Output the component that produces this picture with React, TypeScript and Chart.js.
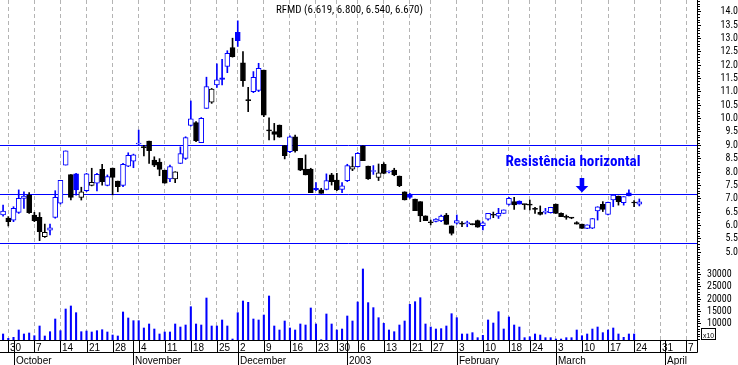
import React, { useEffect, useRef } from 'react';
import { Chart, registerables } from 'chart.js';

Chart.register(...registerables);

// ---- Daily OHLC (trading sessions from 27 Sep 2002 to 25 Mar 2003, index = session number) ----
const openP = [
  6.39, 6.27, 6.20, 6.49, 7.01, 7.14, 6.39, 6.30, 5.58, 5.82,
  6.30, 6.83, 8.26, 7.90, 7.93, 7.05, 7.30, 7.50, 7.58, 8.10,
  7.50, 8.15, 7.66, 7.50, 8.22, 8.41, 9.05, 8.93, 9.16, 8.45,
  8.37, 8.07, 7.74, 7.74, 8.32, 8.51, 9.74, 9.85, 9.10, 10.38,
  10.61, 11.26, 11.53, 11.95, 12.66, 13.23, 12.09, 10.70, 11.01, 11.05,
  11.82, 9.55, 9.51, 9.76, 8.99, 8.76, 9.32, 8.51, 8.11, 8.11,
  7.39, 7.33, 7.35, 7.89, 7.70, 7.35, 7.68, 8.11, 8.20, 8.98,
  8.22, 8.02, 7.80, 8.29, 8.00, 8.07, 7.85, 7.26, 7.17, 6.99,
  6.89, 6.36, 6.13, 6.15, 6.17, 6.39, 5.98, 6.08, 6.06, 6.07,
  6.05, 6.18, 5.99, 6.23, 6.40, 6.35, 6.45, 6.79, 6.89, 6.91,
  6.79, 6.78, 6.62, 6.49, 6.49, 6.48, 6.80, 6.45, 6.31, 6.28,
  6.11, 6.05, 5.89, 5.90, 6.54, 6.79, 6.41, 6.95, 7.10, 6.85,
  7.22, 6.85, 6.80,
];
const highP = [
  6.76, 6.33, 6.70, 7.33, 7.26, 7.23, 6.49, 6.48, 6.05, 6.05,
  7.30, 7.69, 8.79, 7.90, 7.95, 7.43, 7.95, 8.14, 7.95, 8.29,
  7.89, 8.15, 7.66, 8.32, 8.72, 8.67, 9.57, 9.00, 9.16, 8.57,
  8.50, 8.07, 8.26, 8.01, 8.94, 9.32, 10.66, 9.89, 10.04, 11.55,
  11.13, 12.05, 12.22, 12.54, 13.01, 13.66, 12.51, 11.17, 11.76, 12.07,
  11.82, 10.03, 9.82, 9.76, 8.99, 9.35, 9.38, 8.51, 8.64, 8.14,
  7.60, 7.39, 7.93, 7.95, 7.95, 7.60, 8.29, 8.57, 8.73, 8.98,
  8.22, 8.24, 8.30, 8.35, 8.04, 8.14, 7.85, 7.26, 7.20, 6.99,
  6.89, 6.36, 6.20, 6.26, 6.39, 6.45, 5.98, 6.39, 6.14, 6.16,
  6.06, 6.20, 6.14, 6.45, 6.50, 6.64, 6.58, 7.05, 7.05, 6.92,
  6.80, 6.95, 6.68, 6.73, 6.64, 6.68, 6.80, 6.47, 6.39, 6.30,
  6.14, 6.05, 6.02, 6.26, 6.70, 6.89, 6.87, 7.14, 7.10, 7.08,
  7.33, 6.93, 6.99,
];
const lowP = [
  6.35, 5.98, 6.14, 6.45, 6.64, 6.45, 6.14, 5.43, 5.55, 5.64,
  6.27, 6.80, 8.26, 6.95, 7.13, 6.95, 7.27, 7.48, 7.29, 7.51,
  7.48, 7.14, 7.26, 7.45, 8.20, 8.16, 8.99, 8.60, 8.32, 8.20,
  7.86, 7.58, 7.64, 7.60, 8.32, 8.47, 9.72, 9.14, 9.10, 10.38,
  10.57, 11.17, 11.26, 11.72, 12.30, 12.70, 11.20, 10.26, 10.97, 11.01,
  10.07, 9.20, 9.20, 9.30, 8.49, 8.72, 8.74, 8.05, 7.89, 7.23,
  7.30, 7.20, 7.33, 7.51, 7.30, 7.23, 7.64, 8.05, 8.18, 8.42,
  7.72, 7.91, 7.68, 7.93, 7.97, 7.86, 7.45, 6.95, 7.01, 6.55,
  6.14, 6.18, 6.02, 6.13, 6.14, 6.04, 5.64, 6.05, 5.95, 5.95,
  6.02, 5.93, 5.83, 6.20, 6.29, 6.26, 6.45, 6.76, 6.60, 6.80,
  6.60, 6.58, 6.45, 6.39, 6.43, 6.46, 6.45, 6.33, 6.23, 6.25,
  6.05, 5.89, 5.88, 5.88, 6.20, 6.52, 6.39, 6.70, 6.76, 6.76,
  7.10, 6.70, 6.73,
];
const closeP = [
  6.54, 6.14, 6.64, 7.01, 7.10, 6.48, 6.18, 5.77, 5.74, 5.91,
  7.05, 7.69, 8.79, 7.05, 7.33, 7.26, 7.93, 7.61, 7.91, 7.64,
  7.83, 7.80, 7.45, 8.29, 8.62, 8.64, 9.08, 8.91, 8.80, 8.26,
  8.10, 7.58, 8.20, 8.01, 8.69, 9.29, 9.99, 9.17, 10.01, 11.20,
  11.10, 11.45, 11.47, 12.44, 12.32, 12.92, 11.42, 10.67, 11.54, 11.88,
  10.13, 9.54, 9.41, 9.30, 8.61, 9.32, 8.79, 8.07, 7.89, 7.23,
  7.34, 7.20, 7.68, 7.64, 7.33, 7.48, 8.24, 8.20, 8.70, 8.42,
  7.74, 8.03, 7.97, 7.95, 8.02, 7.89, 7.49, 6.95, 7.05, 6.55,
  6.36, 6.18, 6.10, 6.24, 6.35, 6.04, 5.70, 6.18, 6.05, 6.08,
  6.03, 5.93, 6.10, 6.45, 6.38, 6.45, 6.58, 7.01, 6.77, 6.80,
  6.78, 6.76, 6.60, 6.41, 6.50, 6.68, 6.45, 6.33, 6.30, 6.27,
  6.05, 5.89, 6.02, 6.26, 6.70, 6.60, 6.86, 7.14, 6.89, 7.08,
  7.10, 6.84, 6.88,
];
const volume: (number | null)[] = [
  5830, 4085, 4490, 7450, 5830, 6230, 5140, 9070, 5020, 6760,
  11900, 7170, 15950, 17170, 14460, 6760, 7040, 6640, 7170, 7570,
  6640, 5420, 5020, 14740, 12310, 11220, 11220, 8260, 9880, 7850,
  5830, 6640, 6640, 9880, 8660, 9470, 16890, 9880, 9470, 20400,
  9070, 9070, 11500, 9070, 3800, 14460, 19190, 18660, 11900, 11500,
  13520, 21220, 9070, 7450, 11090, 8260, 7450, 9880, 9470, 16360,
  9880, 3500, 13930, 9880, 7450, 7850, 13120, 11090, 18790, 32150,
  18520, 16500, 12430, 10140, 7450, 6760, 9470, 11090, 17850, 18910,
  20530, 9880, 8660, 7850, 7990, 9070, 14050, 12430, 5830, 5830,
  6370, 4340, 5280, 11500, 10280, 14860, 7850, 12710, 9470, 8660,
  4340, 4700, 5830, 5420, 4340, 4340, 3800, 3800, 4340, 4340,
  7450, 5140, 5830, 7850, 8660, 6370, 7450, 8260, 5830, 4490,
  5830, 5830, null,
];

// ---- Axis tick labels ----
const weekTickIdx = [1, 6, 11, 16, 21, 26, 31, 36, 41, 45, 50, 55, 60, 64, 68, 73, 78, 82, 87, 92, 97, 101, 106, 111, 116, 121, 126, 131];
const weekTickLabels = ['30', '7', '14', '21', '28', '4', '11', '18', '25', '2', '9', '16', '23', '30', '6', '13', '21', '27', '3', '10', '18', '24', '3', '10', '17', '24', '31', '7'];
const monthStartIdx = [2, 25, 45, 66, 87, 106, 127];
const monthLabels = ['October', 'November', 'December', '2003', 'February', 'March', 'April'];
const priceTicks = [5.0, 5.5, 6.0, 6.5, 7.0, 7.5, 8.0, 8.5, 9.0, 9.5, 10.0, 10.5, 11.0, 11.5, 12.0, 12.5, 13.0, 13.5, 14.0];
const volumeTicks = [10000, 15000, 20000, 25000, 30000];

// ---- Annotations ----
const levelLines = [9.0, 7.17, 5.33];
const titleText = 'RFMD (6.619, 6.800, 6.540, 6.670)';
const noteText = 'Resistência horizontal';
const arrowIdx = 111;

const X_MIN = -0.59;
const X_MAX = 133.06;
const BLUE = '#0000ff';
const BLACK = '#000000';
const SANS = '"Liberation Sans", Arial, sans-serif';

function pickFont(cands: string[], fallback: string) {
  const c = document.createElement('canvas').getContext('2d')!;
  const test = '14.0 30000 mmmWWWiii RFMD';
  for (const f of cands) {
    c.font = '20px monospace';
    const a = c.measureText(test).width;
    c.font = `20px "${f}", monospace`;
    const b = c.measureText(test).width;
    if (Math.abs(a - b) > 0.5) return `"${f}", ${fallback}`;
  }
  return fallback;
}

function fitText(ctx: CanvasRenderingContext2D, text: string, x: number, y: number, w: number, align: 'left' | 'center') {
  const m = ctx.measureText(text).width;
  const s = m > 0 ? w / m : 1;
  ctx.save();
  ctx.translate(x, y);
  ctx.scale(s, 1);
  ctx.textAlign = 'left';
  ctx.fillText(text, align === 'center' ? -m / 2 : 0, 0);
  ctx.restore();
}

function makeDecor(narrow: string) {
  return {
    id: 'decor',
    beforeDatasetsDraw(chart: any) {
      const { ctx, chartArea: a, scales } = chart;
      const y = scales.y;
      ctx.save();
      ctx.strokeStyle = BLUE;
      ctx.lineWidth = 1;
      levelLines.forEach((v) => {
        const py = Math.round(y.getPixelForValue(v)) + 0.5;
        ctx.beginPath();
        ctx.moveTo(a.left, py);
        ctx.lineTo(a.right, py);
        ctx.stroke();
      });
      ctx.restore();
    },
    afterDraw(chart: any) {
      const { ctx, chartArea: a, scales } = chart;
      const { x, y, yv } = scales;
      ctx.save();
      ctx.strokeStyle = BLACK;
      ctx.fillStyle = BLACK;
      ctx.lineWidth = 1;
      const axX = Math.round(a.right) + 0.5;

      // minor ticks on price and volume axes
      ctx.beginPath();
      for (let k = 48; k <= 144; k++) {
        if (k % 5 === 0) continue;
        const py = Math.round(y.getPixelForValue(k / 10)) + 0.5;
        ctx.moveTo(axX, py);
        ctx.lineTo(axX + 2.5, py);
      }
      for (let v = 4000; v <= 36000; v += 1000) {
        if (volumeTicks.includes(v)) continue;
        const py = Math.round(yv.getPixelForValue(v)) + 0.5;
        ctx.moveTo(axX, py);
        ctx.lineTo(axX + 2.5, py);
      }
      ctx.stroke();

      // bottom date axis (two rows)
      const top = Math.round(a.bottom) + 0.5;
      const row = top + 12;
      ctx.beginPath();
      ctx.moveTo(0, top);
      ctx.lineTo(axX, top);
      ctx.moveTo(0, row);
      ctx.lineTo(axX, row);
      ctx.moveTo(axX, top);
      ctx.lineTo(axX, row);
      weekTickIdx.forEach((i) => {
        const px = Math.round(x.getPixelForValue(i)) + 0.5;
        ctx.moveTo(px, top);
        ctx.lineTo(px, row);
      });
      ctx.stroke();

      ctx.font = `10px ${SANS}`;
      ctx.textBaseline = 'alphabetic';
      ctx.textAlign = 'left';
      weekTickIdx.forEach((i, k) => {
        const px = Math.round(x.getPixelForValue(i));
        ctx.fillText(weekTickLabels[k], px + 2, top + 10.5);
      });
      monthStartIdx.forEach((i, k) => {
        const px = Math.round(x.getPixelForValue(i));
        ctx.fillText(monthLabels[k], px + 2, 364);
      });
      ctx.beginPath();
      monthStartIdx.forEach((i) => {
        const px = Math.round(x.getPixelForValue(i)) + 0.5;
        ctx.moveTo(px, top);
        ctx.lineTo(px, 365);
      });
      ctx.stroke();

      // x10 box on volume axis
      ctx.strokeRect(701.5, 328.5, 14, 11);
      ctx.font = `8px ${SANS}`;
      fitText(ctx, 'x10', 703, 337.5, 11, 'left');

      // title
      ctx.font = `11px ${narrow}`;
      fitText(ctx, titleText, 349.5, 13, 147, 'center');

      // annotation text
      ctx.fillStyle = BLUE;
      ctx.font = `bold 14px ${narrow}`;
      fitText(ctx, noteText, 505.5, 166, 135, 'left');

      // arrow
      const ax = x.getPixelForValue(arrowIdx);
      ctx.fillRect(ax - 2.3, 178, 4.6, 8.5);
      ctx.beginPath();
      ctx.moveTo(ax - 6.3, 186);
      ctx.lineTo(ax + 6.3, 186);
      ctx.lineTo(ax, 192.5);
      ctx.closePath();
      ctx.fill();

      ctx.restore();
    },
  };
}

export default function App() {
  const ref = useRef<HTMLCanvasElement>(null);

  useEffect(() => {
    const canvas = ref.current;
    if (!canvas) return;

    const NARROW = pickFont(['Liberation Sans Narrow', 'Arial Narrow', 'Roboto Condensed'], SANS);

    const idx = openP.map((_, i) => i);
    const candleColor = idx.map((i) => (i === 0 || closeP[i] >= closeP[i - 1] ? BLUE : BLACK));
    const bodyFill = idx.map((i) => (closeP[i] > openP[i] ? '#ffffff' : candleColor[i]));

    const mctx = document.createElement('canvas').getContext('2d')!;
    mctx.font = `10px ${NARROW}`;
    const widest = Math.max(...priceTicks.map((v) => mctx.measureText(v.toFixed(1)).width));
    const pricePad = Math.max(1, 733 - 697 - 4 - widest);

    const axisFit = (s: any) => {
      s.width = 41;
      s.paddingTop = 0;
      s.paddingBottom = 0;
      s.paddingLeft = 0;
      s.paddingRight = 0;
    };

    const chart = new Chart(canvas, {
      type: 'bar',
      data: {
        datasets: [
          {
            label: 'body',
            data: idx.map((i) => ({ x: i, y: [Math.min(openP[i], closeP[i]), Math.max(openP[i], closeP[i])] })) as any,
            backgroundColor: bodyFill,
            borderColor: candleColor,
            borderWidth: 1,
            borderSkipped: false,
            barThickness: 5,
            minBarLength: 1,
            grouped: false,
            yAxisID: 'y',
            order: 0,
          } as any,
          {
            label: 'wick',
            data: idx.map((i) => ({ x: i, y: [lowP[i], highP[i]] })) as any,
            backgroundColor: candleColor,
            borderWidth: 0,
            barThickness: 1,
            grouped: false,
            yAxisID: 'y',
            order: 1,
          } as any,
          {
            label: 'volume',
            data: idx.map((i) => ({ x: i, y: volume[i] })) as any,
            backgroundColor: BLUE,
            borderWidth: 0,
            barThickness: 1.4,
            grouped: false,
            yAxisID: 'yv',
            order: 2,
          } as any,
        ],
      },
      options: {
        animation: false,
        responsive: false,
        events: [],
        layout: { padding: 0 },
        plugins: {
          legend: { display: false },
          tooltip: { enabled: false },
          title: { display: false },
        },
        scales: {
          x: {
            type: 'linear',
            min: X_MIN,
            max: X_MAX,
            offset: false,
            afterBuildTicks: (s: any) => {
              s.ticks = weekTickIdx.map((v) => ({ value: v }));
            },
            afterFit: (s: any) => {
              s.height = 25;
              s.paddingLeft = 0;
              s.paddingRight = 0;
            },
            ticks: { display: false },
            grid: { display: true, drawOnChartArea: true, drawTicks: false, color: '#b4b4b4', lineWidth: 1, offset: false },
            border: { display: false, dash: [4, 3] },
          } as any,
          y: {
            type: 'linear',
            position: 'right',
            stack: 'right',
            stackWeight: 258,
            min: 4.78,
            max: 14.44,
            afterBuildTicks: (s: any) => {
              s.ticks = priceTicks.map((v) => ({ value: v }));
            },
            afterFit: axisFit,
            ticks: {
              autoSkip: false,
              crossAlign: 'far',
              padding: pricePad,
              color: BLACK,
              font: { family: NARROW, size: 10 },
              callback: (v: any) => Number(v).toFixed(1),
            },
            grid: { display: true, drawOnChartArea: false, drawTicks: true, tickLength: 4, color: BLACK },
            border: { display: true, color: BLACK, width: 1 },
          } as any,
          yv: {
            type: 'linear',
            position: 'right',
            stack: 'right',
            stackWeight: 82,
            min: 3400,
            max: 36600,
            afterBuildTicks: (s: any) => {
              s.ticks = volumeTicks.map((v) => ({ value: v }));
            },
            afterFit: axisFit,
            ticks: {
              autoSkip: false,
              crossAlign: 'near',
              padding: 6,
              color: BLACK,
              font: { family: NARROW, size: 10 },
              callback: (v: any) => String(v),
            },
            grid: { display: true, drawOnChartArea: false, drawTicks: true, tickLength: 4, color: BLACK },
            border: { display: true, color: BLACK, width: 1 },
          } as any,
        },
      },
      plugins: [makeDecor(NARROW)],
    } as any);

    return () => chart.destroy();
  }, []);

  return (
    <div style={{ position: 'fixed', left: 0, top: 0, width: 738, height: 365, background: '#ffffff' }}>
      <canvas ref={ref} width={738} height={365} style={{ display: 'block', width: 738, height: 365 }} />
    </div>
  );
}
